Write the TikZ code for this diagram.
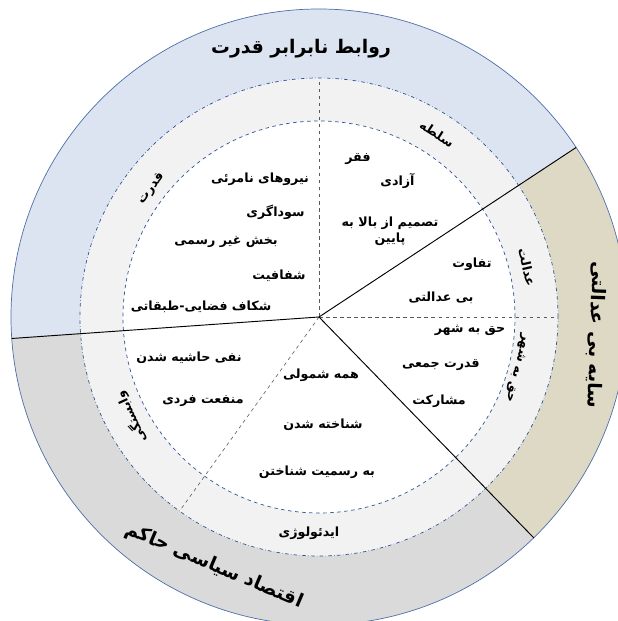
\documentclass[tikz,border=0pt]{standalone}
\usepackage{fontspec}
\newfontfamily\arabicfont[Script=Arabic]{DejaVu Sans}
\TeXXeTstate=1
\usetikzlibrary{positioning,calc}
\definecolor{powblue}{HTML}{DCE4F1}
\definecolor{shadetan}{HTML}{DDD9C4}
\definecolor{econgray}{HTML}{DADADA}
\definecolor{ringgray}{HTML}{F2F2F2}
\definecolor{edgeblue}{HTML}{2F5597}
\newcommand{\pers}[1]{\beginR #1\endR}
\tikzset{
	item/.style={font=\arabicfont\bfseries\fontsize{10.8}{14}\selectfont, inner sep=1pt, align=center},
	ringlab/.style={font=\arabicfont\bfseries\fontsize{10.8}{14}\selectfont, inner sep=0pt},
	biglab/.style={font=\arabicfont\bfseries\fontsize{16}{20}\selectfont, inner sep=0pt},
}

\begin{document}
\begin{tikzpicture}[x=0.03cm, y=0.03cm]
	\useasboundingbox (-319,-304) rectangle (298,317);
	\fill[powblue] (0,0) -- (33.4:308) arc (33.4:184:308) -- cycle;
	\fill[shadetan] (0,0) -- (-45.8:308) arc (-45.8:33.4:308) -- cycle;
	\fill[econgray] (0,0) -- (184:308) arc (184:314.2:308) -- cycle;
	\draw[edgeblue!85, line width=0.6pt] (0,0) circle (308);
	\filldraw[fill=ringgray, draw=edgeblue, dash dot, line width=0.6pt] (0,0) circle (239);
	\filldraw[fill=white, draw=edgeblue, dashed, line width=0.6pt] (0,0) circle (196);

	\coordinate (c) at (0,0);
	\coordinate (up) at (90:239);
	\coordinate (rt) at (0:239);
	\coordinate (lo) at (234.3:239);
	\coordinate (ne) at (33.4:308);
	\coordinate (w) at (184:308);
	\coordinate (se) at (-45.8:308);

	\draw[gray!70!black, dashed, line width=0.5pt] (c) to (up);
	\draw[gray!70!black, dashed, line width=0.5pt] (c) to (rt);
	\draw[gray!70!black, dashed, line width=0.5pt] (c) to (lo);
	\draw[line width=0.8pt] (c) to (ne);
	\draw[line width=0.8pt] (c) to (w);
	\draw[line width=0.8pt] (c) to (se);

	\node[item] (niru) at (-59, 138) {\pers{نیروهای نامرئی}};
	\node[item] (soda) at (-43.5, 104.5) {\pers{سوداگری}};
	\node[item] (bakhsh) at (-93, 75) {\pers{بخش غیر رسمی}};
	\node[item] (shafaf) at (-40, 41.5) {\pers{شفافیت}};
	\node[item] (shekaf) at (-118, 10) {\pers{شکاف فضایی-طبقاتی}};
	\node[item] (faghr) at (39, 158) {\pers{فقر}};
	\node[item] (azadi) at (78.5, 136) {\pers{آزادی}};
	\node[item] (tasmim) at (71, 86) {\pers{تصمیم از بالا به}\\\pers{پایین}};
	\node[item] (tafavot) at (153, 52.5) {\pers{تفاوت}};
	\node[item] (bied) at (122, 19) {\pers{بی عدالتی}};
	\node[item] (hagh) at (151, -13.6) {\pers{حق به شهر}};
	\node[item] (jamei) at (122, -48) {\pers{قدرت جمعی}};
	\node[item] (mosh) at (120, -84) {\pers{مشارکت}};
	\node[item] (nafy) at (-130, -41) {\pers{نفی حاشیه شدن}};
	\node[item] (fardi) at (-116, -84) {\pers{منفعت فردی}};
	\node[item] (shomul) at (2, -58) {\pers{همه شمولی}};
	\node[item] (shenakht) at (4, -108) {\pers{شناخته شدن}};
	\node[item] (rasmi) at (-2, -155) {\pers{به رسمیت شناختن}};

	\node[ringlab, rotate=52.6] (ghodrat) at (-167.5, 128) {\pers{قدرت}};
	\node[ringlab, rotate=-33] (solte) at (118, 183) {\pers{سلطه}};
	\node[ringlab, rotate=-77] (edalat) at (208, 49.4) {\pers{عدالت}};
	\node[ringlab, rotate=-104] (haghring) at (198, -51) {\pers{حق به شهر}};
	\node[ringlab, rotate=115] (vabast) at (-188, -100) {\pers{وابستگی}};
	\node[ringlab] (ideo) at (-10, -216) {\pers{ایدئولوژی}};

	\node[biglab] (ravabet) at (-18, 268) {\pers{روابط نابرابر قدرت}};
	\node[biglab, rotate=-92] (saye) at (277, -17.5) {\pers{سایه بی عدالتی}};
	\node[biglab, rotate=-23] (eghtesad) at (-105, -249) {\pers{اقتصاد سیاسی حاکم}};
\end{tikzpicture}
\end{document}
